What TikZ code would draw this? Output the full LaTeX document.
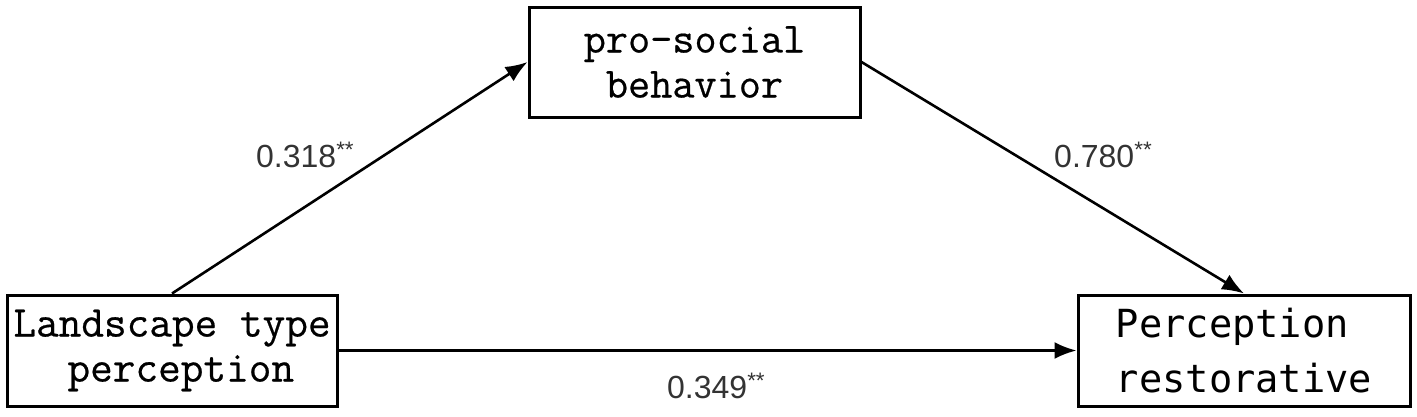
\documentclass[tikz,border=0pt]{standalone}
\usepackage{fontspec}
\setmainfont{Liberation Sans}
\newfontfamily\boxmono[FakeBold=0.5]{Latin Modern Mono}
\newfontfamily\sansmono{DejaVu Sans Mono}
\usetikzlibrary{arrows.meta}
\definecolor{lbl}{HTML}{333333}
\begin{document}
\begin{tikzpicture}[x=1pt,y=-1pt,
  box/.style={draw=black, line width=3pt, fill=white, inner sep=0pt},
  conn/.style={line width=2.6pt, -{Latex[length=22pt,width=17pt]}},
  lab/.style={text=lbl, font=\fontsize{32}{34}\selectfont, inner sep=0pt, anchor=base west}]
\useasboundingbox (0,0) rectangle (1417,416);
\node[box, minimum width=330pt, minimum height=111pt, align=center,
      font=\boxmono\fontsize{44}{45}\selectfont] (lt) at (172,350.5)
      {Landscape type\\\hspace*{0.4em}perception};
\node[box, minimum width=331pt, minimum height=110pt, align=center,
      font=\boxmono\fontsize{43}{45}\selectfont] (ps) at (694.5,62)
      {pro-social\\behavior};
\node[box, minimum width=332pt, minimum height=111pt, align=left,
      font=\sansmono\fontsize{38.7}{55}\selectfont] (pr) at (1244,350.5)
      {Perception\\restorative};
\draw[conn] (lt.north) -- (ps.west);
\draw[conn] (ps.east) -- (pr.north);
\draw[conn] (lt.east) -- (pr.west);
\node[lab] (l1) at (256,167) {0.318\textsuperscript{**}};
\node[lab] (l2) at (1054,167) {0.780\textsuperscript{**}};
\node[lab] (l3) at (667,398) {0.349\textsuperscript{**}};
\end{tikzpicture}
\end{document}
